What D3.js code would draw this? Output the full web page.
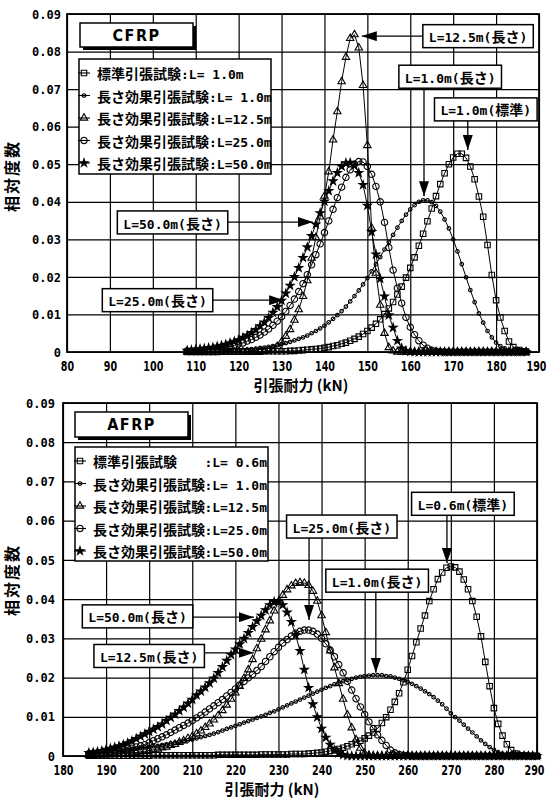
<!DOCTYPE html>
<html>
<head>
<meta charset="utf-8">
<script src="https://cdn.jsdelivr.net/npm/d3@7"></script>
<style>
body { margin: 0; background: #fff; }
svg { display: block; }
text { font-family: "Noto Sans CJK JP", sans-serif; font-weight: bold; fill: #000; }
.asc { font-family: "DejaVu Sans Mono", monospace; font-size: 13px; }
.cjk { font-family: "Noto Sans CJK JP", sans-serif; font-size: 14px; }
.ytick { font-family: "DejaVu Sans Mono", monospace; font-size: 12px; }
.xtick { font-family: "DejaVu Sans Condensed", sans-serif; font-size: 14px; }
</style>
</head>
<body>
<svg width="546" height="802"></svg>
<script>
// ---- data: CFRP ----
var cfrpLoad = [108,109,110,111,112,113,114,115,116,117,
  118,119,120,121,122,123,124,125,126,127,
  128,129,130,131,132,133,134,135,136,137,
  138,139,140,141,142,143,144,145,146,147,
  148,149,150,151,152,153,154,155,156,157,
  158,159,160,161,162,163,164,165,166,167,
  168,169,170,171,172,173,174,175,176,177,
  178,179,180,181,182,183,184,185,186,187];

var cfrpStd = [0,0,0,0,0,0,0,0,0.0001,0.0001,
  0.0001,0.0001,0.0001,0.0001,0.0001,0.0001,0.0001,0.0001,0.0002,0.0002,
  0.0002,0.0002,0.0002,0.0002,0.0003,0.0003,0.0004,0.0005,0.0006,0.0007,
  0.0008,0.0009,0.0011,0.0013,0.0016,0.0018,0.0022,0.0025,0.003,0.0035,
  0.0041,0.0048,0.0056,0.0065,0.0075,0.0087,0.0101,0.0116,0.0133,0.0153,
  0.0174,0.0198,0.0224,0.0252,0.0283,0.0315,0.0348,0.0382,0.0415,0.0447,
  0.0476,0.05,0.0518,0.0528,0.0528,0.0517,0.0494,0.046,0.0414,0.036,
  0.0285,0.0205,0.0138,0.0092,0.0056,0.0028,0.0013,0.0005,0.0002,0.0001];

var cfrpL1 = [0.0001,0.0001,0.0001,0.0001,0.0002,0.0002,0.0002,0.0003,0.0003,0.0004,
  0.0004,0.0005,0.0005,0.0006,0.0007,0.0008,0.0009,0.0011,0.0012,0.0014,
  0.0016,0.0018,0.0021,0.0024,0.0027,0.0031,0.0035,0.0039,0.0044,0.005,
  0.0056,0.0063,0.007,0.0079,0.0088,0.0098,0.0109,0.0121,0.0135,0.0149,
  0.0164,0.018,0.0197,0.0215,0.0234,0.0253,0.0273,0.0293,0.0312,0.0331,
  0.0349,0.0366,0.038,0.0391,0.04,0.0404,0.0404,0.0399,0.0389,0.0374,
  0.0353,0.0329,0.03,0.0268,0.0234,0.0199,0.0165,0.0133,0.0103,0.0078,
  0.0056,0.0039,0.0025,0.0016,0.001,0.0005,0.0003,0.0001,0.0001,0];

var cfrpL125 = [0,0,0,0,0,0,0,0,0,0,
  0,0,0,0,0,0,0.0001,0.0001,0.0002,0.0004,
  0.0008,0.0015,0.0027,0.0042,0.006,0.0085,0.0113,0.0148,0.019,0.025,
  0.0305,0.036,0.0415,0.048,0.0565,0.064,0.072,0.0785,0.0835,0.0845,
  0.081,0.071,0.055,0.033,0.021,0.0125,0.005,0.0012,0.0003,0,
  0,0,0,0,0,0,0,0,0,0,
  0,0,0,0,0,0,0,0,0,0,
  0,0,0,0,0,0,0,0,0,0];

var cfrpL25 = [0.0003,0.0003,0.0004,0.0005,0.0006,0.0007,0.0008,0.0009,0.0011,0.0013,
  0.0015,0.0018,0.0021,0.0024,0.0029,0.0033,0.0039,0.0045,0.0053,0.0061,
  0.0071,0.0082,0.0094,0.0108,0.0124,0.0141,0.0161,0.0182,0.0206,0.0232,
  0.0259,0.0288,0.0318,0.0349,0.038,0.0411,0.0439,0.0465,0.0485,0.05,
  0.0507,0.0506,0.0494,0.0473,0.0441,0.04,0.0345,0.0278,0.0218,0.017,
  0.013,0.0092,0.0066,0.0046,0.003,0.0018,0.001,0.0005,0.0002,0.0001,
  0,0,0,0,0,0,0,0,0,0,
  0,0,0,0,0,0,0,0,0,0];

var cfrpL50 = [0.0004,0.0005,0.0006,0.0008,0.0009,0.0011,0.0012,0.0015,0.0017,0.002,
  0.0024,0.0028,0.0032,0.0038,0.0044,0.0051,0.0059,0.0069,0.0079,0.0091,
  0.0105,0.012,0.0137,0.0156,0.0177,0.02,0.0224,0.0251,0.0279,0.0309,
  0.034,0.037,0.0401,0.0429,0.0455,0.0477,0.0494,0.0503,0.0504,0.0496,
  0.0477,0.0445,0.039,0.032,0.026,0.0195,0.0148,0.0098,0.0065,0.003,
  0.001,0.0003,0.0001,0,0,0,0,0,0,0,
  0,0,0,0,0,0,0,0,0,0,
  0,0,0,0,0,0,0,0,0,0];

// ---- data: AFRP ----
var afrpLoad = [186,187,188,189,190,191,192,193,194,195,
  196,197,198,199,200,201,202,203,204,205,
  206,207,208,209,210,211,212,213,214,215,
  216,217,218,219,220,221,222,223,224,225,
  226,227,228,229,230,231,232,233,234,235,
  236,237,238,239,240,241,242,243,244,245,
  246,247,248,249,250,251,252,253,254,255,
  256,257,258,259,260,261,262,263,264,265,
  266,267,268,269,270,271,272,273,274,275,
  276,277,278,279,280,281,282,283,284,285,
  286,287,288,289,290];

var afrpStd = [0.0001,0.0001,0.0001,0.0001,0.0001,0.0001,0.0001,0.0001,0.0001,0.0001,
  0.0001,0.0001,0.0001,0.0001,0.0001,0.0002,0.0002,0.0002,0.0002,0.0002,
  0.0002,0.0002,0.0002,0.0002,0.0002,0.0002,0.0002,0.0002,0.0002,0.0002,
  0.0003,0.0003,0.0003,0.0003,0.0003,0.0003,0.0003,0.0003,0.0003,0.0003,
  0.0004,0.0004,0.0004,0.0004,0.0004,0.0004,0.0004,0.0005,0.0005,0.0005,
  0.0005,0.0006,0.0007,0.0008,0.0009,0.0011,0.0013,0.0015,0.0018,0.0021,
  0.0025,0.003,0.0034,0.0039,0.0045,0.0052,0.006,0.007,0.0084,0.0099,
  0.0118,0.0138,0.016,0.0188,0.022,0.0255,0.029,0.0325,0.0358,0.0395,
  0.0425,0.0451,0.0468,0.048,0.0483,0.0481,0.047,0.045,0.0425,0.0395,
  0.0355,0.0305,0.024,0.0178,0.0122,0.0082,0.0052,0.003,0.0015,0.0006,
  0.0002,0.0001,0,0,0];

var afrpL1 = [0.0009,0.001,0.001,0.0011,0.0012,0.0013,0.0014,0.0015,0.0016,0.0017,
  0.0018,0.0019,0.002,0.0022,0.0023,0.0025,0.0026,0.0028,0.003,0.0032,
  0.0034,0.0036,0.0038,0.004,0.0042,0.0045,0.0048,0.0051,0.0054,0.0057,
  0.0061,0.0065,0.0069,0.0073,0.0077,0.0081,0.0085,0.0089,0.0093,0.0097,
  0.0101,0.0105,0.011,0.0114,0.0119,0.0124,0.0129,0.0134,0.0139,0.0144,
  0.0149,0.0154,0.0159,0.0164,0.0169,0.0174,0.0178,0.0183,0.0187,0.0191,
  0.0194,0.0197,0.02,0.0202,0.0204,0.0205,0.0206,0.0206,0.0206,0.0204,
  0.0203,0.02,0.0197,0.0193,0.0189,0.0184,0.0178,0.0172,0.0165,0.0158,
  0.015,0.0141,0.0132,0.0121,0.0109,0.0099,0.009,0.008,0.007,0.006,
  0.005,0.004,0.0031,0.0023,0.0016,0.001,0.0006,0.0003,0.0001,0.0001,
  0,0,0,0,0];

var afrpL125 = [0.0002,0.0002,0.0003,0.0003,0.0003,0.0004,0.0005,0.0005,0.0006,0.0007,
  0.0008,0.0009,0.0011,0.0012,0.0014,0.0016,0.0018,0.0021,0.0023,0.0027,
  0.003,0.0035,0.0039,0.0045,0.005,0.0057,0.0064,0.0073,0.0082,0.0092,
  0.0103,0.0116,0.013,0.0145,0.0161,0.0178,0.0198,0.022,0.0246,0.0274,
  0.0298,0.0322,0.0345,0.037,0.0392,0.041,0.0424,0.0434,0.044,0.0442,
  0.0441,0.0435,0.042,0.0395,0.0358,0.0315,0.0268,0.0225,0.0185,0.0145,
  0.0105,0.0072,0.0042,0.002,0.0007,0.0002,0,0,0,0,
  0,0,0,0,0,0,0,0,0,0,
  0,0,0,0,0,0,0,0,0,0,
  0,0,0,0,0,0,0,0,0,0,
  0,0,0,0,0];

var afrpL25 = [0.0006,0.0007,0.0008,0.0009,0.001,0.0011,0.0013,0.0014,0.0016,0.0018,
  0.002,0.0023,0.0026,0.0029,0.0034,0.0039,0.0044,0.0049,0.0054,0.006,
  0.0066,0.0072,0.0078,0.0084,0.009,0.0097,0.0104,0.0112,0.012,0.0128,
  0.0136,0.0144,0.0153,0.0162,0.0171,0.0181,0.019,0.0199,0.0208,0.0218,
  0.0228,0.0241,0.0253,0.0266,0.0277,0.0288,0.0297,0.0306,0.0313,0.0318,
  0.0321,0.0321,0.0318,0.0311,0.03,0.0286,0.027,0.0253,0.0233,0.0212,
  0.019,0.0168,0.0146,0.0125,0.0106,0.0087,0.007,0.0054,0.004,0.0027,
  0.0015,0.0008,0.0004,0.0002,0.0001,0,0,0,0,0,
  0,0,0,0,0,0,0,0,0,0,
  0,0,0,0,0,0,0,0,0,0,
  0,0,0,0,0];

var afrpL50 = [0.0008,0.0009,0.0011,0.0013,0.0016,0.0019,0.0022,0.0025,0.0029,0.0033,
  0.0038,0.0044,0.005,0.0056,0.0062,0.0068,0.0074,0.0081,0.009,0.0098,
  0.0106,0.0115,0.0124,0.0134,0.0144,0.0155,0.0165,0.0175,0.0186,0.0198,
  0.0212,0.0227,0.0243,0.0258,0.0272,0.0285,0.0299,0.0314,0.0329,0.0344,
  0.0358,0.0372,0.0385,0.0393,0.0394,0.0385,0.0366,0.0342,0.0308,0.0268,
  0.022,0.0174,0.0132,0.0099,0.007,0.0047,0.0029,0.0015,0.0007,0.0003,
  0.0001,0,0,0,0,0,0,0,0,0,
  0,0,0,0,0,0,0,0,0,0,
  0,0,0,0,0,0,0,0,0,0,
  0,0,0,0,0,0,0,0,0,0,
  0,0,0,0,0];

// ---- ticks and labels ----
var cfrpTicks = [80,90,100,110,120,130,140,150,160,170,180,190];
var afrpTicks = [180,190,200,210,220,230,240,250,260,270,280,290];
var freqTicks = [0,0.01,0.02,0.03,0.04,0.05,0.06,0.07,0.08,0.09];

var testNames = ['標準引張試験','長さ効果引張試験','長さ効果引張試験','長さ効果引張試験','長さ効果引張試験'];
var cfrpLengths = [':L= 1.0m',':L= 1.0m',':L=12.5m',':L=25.0m',':L=50.0m'];
var afrpLengths = [':L= 0.6m',':L= 1.0m',':L=12.5m',':L=25.0m',':L=50.0m'];

var cfrpNotes = ['L=12.5m(長さ)','L=1.0m(長さ)','L=1.0m(標準)','L=50.0m(長さ)','L=25.0m(長さ)'];
var afrpNotes = ['L=0.6m(標準)','L=25.0m(長さ)','L=1.0m(長さ)','L=50.0m(長さ)','L=12.5m(長さ)'];

// where each note box sits and what its arrow points at, in data units
var cfrpNoteAt = [[175.8,0.0841,148.7,0.0841],[169.3,0.0733,163.2,0.0415],[177.6,0.0646,173.4,0.0538],
  [104.6,0.0345,137.3,0.0346],[101.1,0.0138,130.6,0.0138]];
var afrpNoteAt = [[272.8,0.0643,269.1,0.0492],[244.7,0.0585,237.1,0.0347],[252.9,0.0447,252.6,0.0212],
  [197.3,0.0356,224.3,0.0354],[200.0,0.0255,224.3,0.0263]];

var symbols = [d3.symbolSquare, d3.symbolCircle, d3.symbolTriangle, d3.symbolCircle, d3.symbolStar];
var symSize = [30, 10, 24, 32, 20];
var symFill = ['none','none','none','none','#000'];

var svg = d3.select('svg');

var defs = svg.append('defs');
defs.append('marker')
  .attr('id', 'head')
  .attr('viewBox', '0 0 10 10')
  .attr('refX', 10).attr('refY', 5)
  .attr('markerWidth', 15).attr('markerHeight', 10)
  .attr('markerUnits', 'userSpaceOnUse')
  .attr('preserveAspectRatio', 'none')
  .attr('orient', 'auto')
  .append('path').attr('d', 'M0,0L10,5L0,10Z').attr('fill', '#000');

function mixedText(t, str) {
  str.match(/[\x00-\x7F]+|[^\x00-\x7F]+/g).forEach(function(s) {
    t.append('tspan').attr('class', /^[\x00-\x7F]/.test(s) ? 'asc' : 'cjk').text(s);
  });
}

function drawPanel(p) {
  var g = svg.append('g');
  var x = d3.scaleLinear().domain(p.xDomain).range([p.left, p.right]);
  var y = d3.scaleLinear().domain([0, 0.09]).range([p.bottom, p.top]);
  var h = p.bottom - p.top, w = p.right - p.left;

  // grid + tick labels
  var gx = g.append('g')
    .attr('transform', 'translate(0,' + p.bottom + ')')
    .call(d3.axisBottom(x).tickValues(p.xTicks).tickSize(-h).tickFormat(d3.format('d')));
  gx.select('.domain').remove();
  gx.selectAll('line').attr('stroke', '#000').attr('stroke-width', 1.2);
  gx.selectAll('text')
    .attr('class', 'xtick')
    .attr('y', 0).attr('dy', null)
    .attr('font-size', null).attr('font-family', null)
    .attr('transform', function(d, i, n) {
      var shift = i === n.length - 1 ? -3 : 0;
      return 'translate(' + shift + ',19) scale(0.76,1)';
    });

  var gy = g.append('g')
    .attr('transform', 'translate(' + p.left + ',0)')
    .call(d3.axisLeft(y).tickValues(freqTicks).tickSize(-w)
      .tickFormat(function(d) { return d === 0 ? '0' : d3.format('.2f')(d); }));
  gy.select('.domain').remove();
  gy.selectAll('line').attr('stroke', '#000').attr('stroke-width', 1.2);
  gy.selectAll('text').attr('class', 'ytick').attr('x', -p.yGap).attr('dy', '0.35em')
    .attr('font-size', null).attr('font-family', null);

  g.append('rect')
    .attr('x', p.left).attr('y', p.top).attr('width', w).attr('height', h)
    .attr('fill', 'none').attr('stroke', '#000').attr('stroke-width', 1.8);

  // curves
  p.series.forEach(function(vals, i) {
    var pts = p.load.map(function(d, j) { return [d, vals[j]]; });
    g.append('path')
      .datum(pts)
      .attr('fill', 'none').attr('stroke', '#000').attr('stroke-width', 1)
      .attr('d', d3.line().x(function(d) { return x(d[0]); }).y(function(d) { return y(d[1]); }));
    g.append('g').selectAll('path')
      .data(pts)
      .enter()
      .append('path')
      .attr('transform', function(d) { return 'translate(' + x(d[0]) + ',' + y(d[1]) + ')'; })
      .attr('d', d3.symbol().type(symbols[i]).size(symSize[i]))
      .attr('fill', symFill[i]).attr('stroke', '#000').attr('stroke-width', 1.1);
  });

  // title box with shadow
  var tb = p.titleBox;
  g.append('rect').attr('x', tb[0] + 3).attr('y', tb[1] + 3).attr('width', tb[2]).attr('height', tb[3]).attr('fill', '#000');
  g.append('rect').attr('x', tb[0]).attr('y', tb[1]).attr('width', tb[2]).attr('height', tb[3])
    .attr('fill', '#fff').attr('stroke', '#000').attr('stroke-width', 1.5);
  g.append('text')
    .attr('x', tb[0] + tb[2] / 2).attr('y', tb[1] + tb[3] / 2)
    .attr('dy', '0.36em')
    .style('text-anchor', 'middle')
    .style('font-family', '"DejaVu Sans Condensed", sans-serif')
    .style('font-size', '16px').style('letter-spacing', '1.5px')
    .text(p.title);

  // legend
  var lb = p.legendBox;
  g.append('rect').attr('x', lb[0]).attr('y', lb[1]).attr('width', lb[2]).attr('height', lb[3])
    .attr('fill', '#fff').attr('stroke', '#000').attr('stroke-width', 1.5);
  testNames.forEach(function(name, i) {
    var cy = lb[1] + 14 + i * 22.5;
    g.append('line').attr('x1', lb[0] - 1).attr('x2', lb[0] + 11).attr('y1', cy).attr('y2', cy)
      .attr('stroke', '#000').attr('stroke-width', 1.1);
    g.append('path')
      .attr('transform', 'translate(' + (lb[0] + 5) + ',' + cy + ')')
      .attr('d', d3.symbol().type(symbols[i]).size(symSize[i]))
      .attr('fill', symFill[i]).attr('stroke', '#000').attr('stroke-width', 1.1);
    var t = g.append('text').attr('x', lb[0] + 18).attr('y', cy).attr('dy', '0.38em');
    t.append('tspan').attr('class', 'cjk').text(name);
    if (p.alignLengths) {
      g.append('text').attr('x', lb[0] + lb[2] - 1).attr('y', cy).attr('dy', '0.38em')
        .style('text-anchor', 'end')
        .append('tspan').attr('class', 'asc').text(p.lengths[i]);
    } else {
      t.append('tspan').attr('class', 'asc').text(p.lengths[i]);
    }
  });

  // notes with arrows
  p.notes.forEach(function(label, i) {
    var a = p.noteAt[i];
    var cx = x(a[0]), cy = y(a[1]), tx = x(a[2]), ty = y(a[3]);
    var t = g.append('text').attr('x', cx).attr('y', cy).attr('dy', '0.38em').style('text-anchor', 'middle');
    mixedText(t, label);
    var bw = t.node().getComputedTextLength() + 12, bh = 23;
    g.insert('rect', function() { return t.node(); })
      .attr('x', cx - bw / 2).attr('y', cy - bh / 2).attr('width', bw).attr('height', bh)
      .attr('fill', '#fff').attr('stroke', '#000').attr('stroke-width', 1.5);
    var x1, y1;
    if (Math.abs(ty - cy) < bh / 2) {
      x1 = tx < cx ? cx - bw / 2 : cx + bw / 2;
      y1 = ty;
    } else {
      x1 = tx;
      y1 = ty > cy ? cy + bh / 2 : cy - bh / 2;
    }
    g.append('line').attr('x1', x1).attr('y1', y1).attr('x2', tx).attr('y2', ty)
      .attr('stroke', '#000').attr('stroke-width', 1.3).attr('marker-end', 'url(#head)');
  });

  // axis titles
  g.append('text')
    .attr('transform', 'translate(' + p.yTitle[0] + ',' + p.yTitle[1] + ') rotate(-90)')
    .attr('dy', '0.35em')
    .style('text-anchor', 'middle').style('font-size', '16px').style('letter-spacing', '2px')
    .text('相対度数');
  g.append('text')
    .attr('x', p.xTitle[0]).attr('y', p.xTitle[1])
    .attr('dy', '0.35em')
    .style('text-anchor', 'middle').style('font-size', '15px')
    .text('引張耐力 (kN)');
}

drawPanel({
  xDomain: [80, 190], left: 67, right: 539, top: 14, bottom: 352, yGap: 6,
  load: cfrpLoad, series: [cfrpStd, cfrpL1, cfrpL125, cfrpL25, cfrpL50],
  xTicks: cfrpTicks, title: 'CFRP', titleBox: [80, 23, 113, 24],
  legendBox: [79, 59, 192, 115], lengths: cfrpLengths, alignLengths: false,
  notes: cfrpNotes, noteAt: cfrpNoteAt,
  yTitle: [12, 176], xTitle: [301, 386]
});

drawPanel({
  xDomain: [180, 290], left: 63, right: 537, top: 403, bottom: 756, yGap: 8,
  load: afrpLoad, series: [afrpStd, afrpL1, afrpL125, afrpL25, afrpL50],
  xTicks: afrpTicks, title: 'AFRP', titleBox: [75, 412, 113, 25],
  legendBox: [75, 447, 193, 114], lengths: afrpLengths, alignLengths: true,
  notes: afrpNotes, noteAt: afrpNoteAt,
  yTitle: [12, 580], xTitle: [272, 790]
});
</script>
</body>
</html>
